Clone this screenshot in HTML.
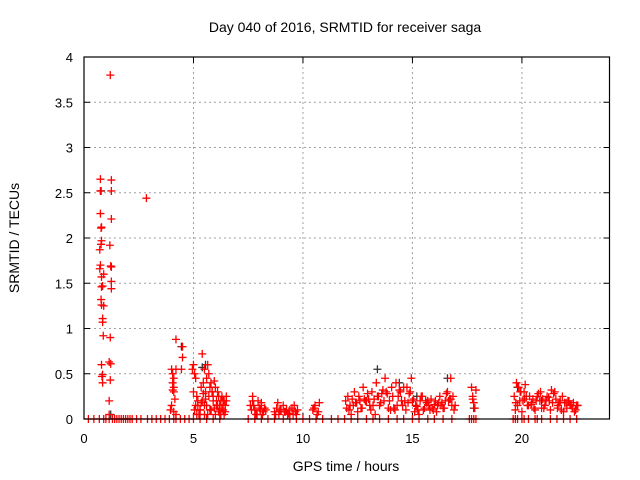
<!DOCTYPE html>
<html><head><meta charset="utf-8"><style>
body{margin:0;background:#fff;}
svg{display:block;font-family:"Liberation Sans",sans-serif;}
</style></head><body>
<svg id="chart" width="640" height="480" viewBox="0 0 640 480">
<text x="345" y="32" font-size="14" text-anchor="middle">Day 040 of 2016, SRMTID for receiver saga</text>
<text x="346" y="471" font-size="14" text-anchor="middle">GPS time / hours</text>
<text transform="translate(19,238) rotate(-90)" font-size="14" text-anchor="middle">SRMTID / TECUs</text>
<g id="grid"></g><g id="ticks"></g><g id="marks"></g>
<rect x="84" y="57" width="525.5" height="362" fill="none" stroke="#000" stroke-width="1.2"/>
</svg>
<script>
const xTicks=[0,5,10,15,20];
const yTicks=[0,0.5,1,1.5,2,2.5,3,3.5,4];
const yTickLabels=["0","0.5","1","1.5","2","2.5","3","3.5","4"];
const redHours=[0.75,0.75,0.75,0.8,0.78,0.8,0.78,0.72,0.75,0.72,0.8,0.9,0.85,0.8,0.78,0.8,0.9,0.85,0.85,0.88,0.8,0.82,0.85,0.85,1.2,1.25,1.25,1.25,1.18,1.22,1.25,1.25,1.25,1.2,1.15,1.22,1.2,1.15,1.15,2.85,
4.0,4.05,4.1,4.05,4.1,4.05,4.1,4.0,3.95,4.1,4.2,4.2,4.5,4.5,4.45,4.2,4.15,
4.95,5.0,5.05,5.1,5.0,5.15,5.2,5.3,5.35,5.4,5.45,5.5,5.55,5.6,5.65,5.7,5.75,5.8,5.85,5.9,5.95,6.0,6.05,6.1,6.15,6.2,6.25,6.3,6.35,6.4,6.45,6.5,5.05,5.2,5.25,5.4,5.5,5.6,5.7,5.8,5.9,6.0,6.1,6.2,6.3,6.4,6.5,5.1,5.3,5.45,5.65,5.75,5.85,6.05,6.25,6.45,5.35,5.55,5.95,6.15,6.35,5.15,5.5,5.8,
7.6,7.7,7.8,7.9,8.0,8.1,8.2,7.65,7.75,7.85,7.95,8.05,8.15,8.25,7.7,7.9,8.1,8.3,
8.7,8.8,8.9,9.0,9.1,9.2,9.3,9.4,9.5,9.6,9.7,8.75,8.95,9.15,9.35,9.55,9.75,8.85,9.25,9.65,
10.45,10.55,10.65,10.75,10.5,10.7,
11.95,12.05,12.15,12.25,12.35,12.45,12.55,12.65,12.75,12.85,12.95,13.05,13.15,13.25,13.35,13.45,13.55,13.65,13.75,13.85,13.95,14.05,14.15,14.25,14.35,14.45,14.55,14.65,14.75,14.85,14.95,15.05,15.15,15.25,15.35,15.45,15.55,15.65,15.75,15.85,15.95,16.05,16.15,16.25,16.35,16.45,16.55,16.65,16.75,16.85,16.95,
12.1,12.3,12.5,12.7,12.9,13.1,13.3,13.5,13.7,13.9,14.1,14.3,14.5,14.7,14.9,15.1,15.3,15.5,15.7,15.9,16.1,16.3,16.5,16.7,16.9,12.2,12.6,13.0,13.4,13.8,14.2,14.6,15.0,15.4,15.8,16.2,16.6,16.8,
17.7,17.75,17.8,17.85,17.9,17.75,
19.65,19.75,19.85,19.95,20.05,20.15,20.25,20.35,20.45,20.55,20.65,20.75,20.85,20.95,21.05,21.15,21.25,21.35,21.45,21.55,21.65,21.75,21.85,21.95,22.05,22.15,22.25,22.35,22.45,22.55,
19.7,19.9,20.1,20.3,20.5,20.7,20.9,21.1,21.3,21.5,21.7,21.9,22.1,22.3,22.5,19.8,20.0,20.2,20.6,21.0,21.4,21.8,22.2,22.4,
12.0,12.4,12.8,13.2,13.6,14.0,14.4,14.8,15.2,15.6,16.0,16.4,16.75,19.72,19.92,20.12,20.42,20.82,21.22,21.62,22.02,22.32];
const redValues=[2.65,2.52,2.27,2.12,2.11,1.97,1.93,1.87,1.7,1.66,1.57,1.6,1.47,1.46,1.32,1.26,1.25,1.11,1.07,0.92,0.6,0.47,0.49,0.4,3.8,2.64,2.52,2.21,1.92,1.69,1.68,1.52,1.44,0.9,0.63,0.61,0.43,0.2,0.05,2.44,
0.55,0.5,0.45,0.4,0.35,0.32,0.3,0.15,0.1,0.08,0.05,0.88,0.8,0.68,0.55,0.55,0.22,
0.55,0.6,0.5,0.45,0.3,0.25,0.2,0.1,0.35,0.72,0.4,0.55,0.3,0.45,0.6,0.5,0.35,0.4,0.3,0.25,0.42,0.35,0.2,0.3,0.25,0.15,0.2,0.25,0.1,0.2,0.15,0.25,0.1,0.15,0.05,0.2,0.05,0.15,0.25,0.1,0.2,0.05,0.15,0.1,0.12,0.05,0.2,0.15,0.1,0.28,0.05,0.1,0.3,0.15,0.05,0.08,0.18,0.22,0.12,0.08,0.2,0.05,0.15,0.1,
0.15,0.2,0.1,0.05,0.12,0.18,0.08,0.1,0.15,0.05,0.2,0.1,0.05,0.12,0.25,0.05,0.15,0.1,
0.08,0.12,0.05,0.1,0.15,0.08,0.05,0.1,0.12,0.15,0.05,0.05,0.1,0.08,0.06,0.05,0.1,0.18,0.1,0.08,
0.1,0.15,0.05,0.18,0.12,0.08,
0.2,0.25,0.15,0.22,0.3,0.18,0.25,0.12,0.35,0.2,0.28,0.15,0.3,0.22,0.4,0.25,0.18,0.32,0.45,0.28,0.2,0.35,0.12,0.4,0.25,0.3,0.15,0.2,0.35,0.28,0.45,0.22,0.15,0.1,0.2,0.25,0.12,0.18,0.15,0.22,0.1,0.2,0.15,0.25,0.18,0.12,0.28,0.2,0.45,0.25,0.15,
0.1,0.15,0.08,0.12,0.2,0.1,0.05,0.15,0.2,0.12,0.25,0.15,0.2,0.1,0.3,0.08,0.05,0.1,0.2,0.12,0.08,0.15,0.2,0.22,0.1,0.05,0.2,0.22,0.25,0.3,0.1,0.35,0.2,0.25,0.1,0.18,0.3,0.15,
0.35,0.25,0.18,0.12,0.32,0.22,
0.25,0.4,0.35,0.3,0.2,0.38,0.15,0.25,0.18,0.12,0.2,0.28,0.3,0.22,0.15,0.25,0.2,0.32,0.28,0.22,0.15,0.2,0.25,0.18,0.12,0.2,0.15,0.18,0.1,0.15,
0.1,0.2,0.3,0.15,0.22,0.25,0.12,0.2,0.1,0.3,0.18,0.08,0.2,0.12,0.15,0.15,0.08,0.25,0.1,0.12,0.18,0.1,0.15,0.08,
0.12,0.18,0.22,0.15,0.28,0.1,0.32,0.18,0.14,0.2,0.16,0.12,0.22,0.18,0.3,0.22,0.16,0.2,0.24,0.12,0.18];
const blackHours=[0.78,1.22,4.45,5.4,5.55,13.4,14.4,15.2,16.6,17.8,19.8,20.9];
const blackValues=[2.52,0.05,0.8,0.57,0.6,0.55,0.4,0.25,0.45,0.12,0.35,0.2];
const zeroHours=[0.2,0.45,0.7,0.9,1.0,1.15,1.3,1.4,1.5,1.6,1.7,1.8,1.9,2.0,2.1,2.2,2.4,2.6,2.9,3.1,3.3,3.5,3.7,3.9,4.1,4.2,4.4,4.6,4.8,5.0,5.3,5.6,5.9,6.2,7.5,7.8,8.1,8.4,8.7,9.1,9.4,9.7,10.0,10.3,10.6,10.9,11.3,11.6,11.9,12.2,12.5,12.9,13.2,13.5,13.9,14.3,14.6,15.0,15.3,15.7,16.0,16.4,16.8,17.6,17.7,17.8,17.9,19.6,19.7,19.8,20.0,20.1,20.3,20.6,20.7,20.9,21.3,21.6,21.9,22.2,22.5];
const X0=84,X1=609.5,Y0=419,Y1=57,XMAX=24,YMAX=4;
function xs(v){return X0+(X1-X0)*v/XMAX;}
function ys(v){return Y0-(Y0-Y1)*v/YMAX;}
const NS="http://www.w3.org/2000/svg";
const grid=document.getElementById('grid'),ticks=document.getElementById('ticks'),marks=document.getElementById('marks');
function mk(tag,attrs,parent){const e=document.createElementNS(NS,tag);for(const k in attrs)e.setAttribute(k,attrs[k]);parent.appendChild(e);return e;}
xTicks.forEach(t=>{
  const x=xs(t);
  if(t>0){const g=mk('line',{x1:x,x2:x,y1:Y1,y2:Y0,stroke:'#a0a0a0','stroke-dasharray':'2,3'},grid);
  
  }
  mk('line',{x1:x,x2:x,y1:Y0,y2:Y0-6,stroke:'#000'},ticks);
  mk('line',{x1:x,x2:x,y1:Y1,y2:Y1+6,stroke:'#000'},ticks);
  const l=mk('text',{x:x,y:443,'font-size':13,'text-anchor':'middle'},ticks);l.textContent=t;
  
  
});
yTicks.forEach((t,i)=>{
  const y=ys(t);
  if(t>0&&t<YMAX){const g=mk('line',{x1:X0,x2:X1,y1:y,y2:y,stroke:'#a0a0a0','stroke-dasharray':'2,3'},grid);
  
  }
  mk('line',{x1:X0,x2:X0+6,y1:y,y2:y,stroke:'#000'},ticks);
  mk('line',{x1:X1,x2:X1-6,y1:y,y2:y,stroke:'#000'},ticks);
  const l=mk('text',{x:73,y:y+5,'font-size':13,'text-anchor':'end'},ticks);l.textContent=yTickLabels[i];
  
  
});
function plus(h,v,color,name){
  const x=xs(h),y=ys(v);
  const p=mk('path',{d:`M${x-4},${y}H${x+4}M${x},${y-4}V${y+4}`,stroke:color,'stroke-width':1.3,fill:'none'},marks);
  
  
}
blackHours.forEach((h,i)=>plus(h,blackValues[i],'#333','srmtid-point-black'));
zeroHours.forEach(h=>plus(h,0,'#f00','zero-point'));
redHours.forEach((h,i)=>plus(h,redValues[i],'#f00','srmtid-point'));
</script>
</body></html>
